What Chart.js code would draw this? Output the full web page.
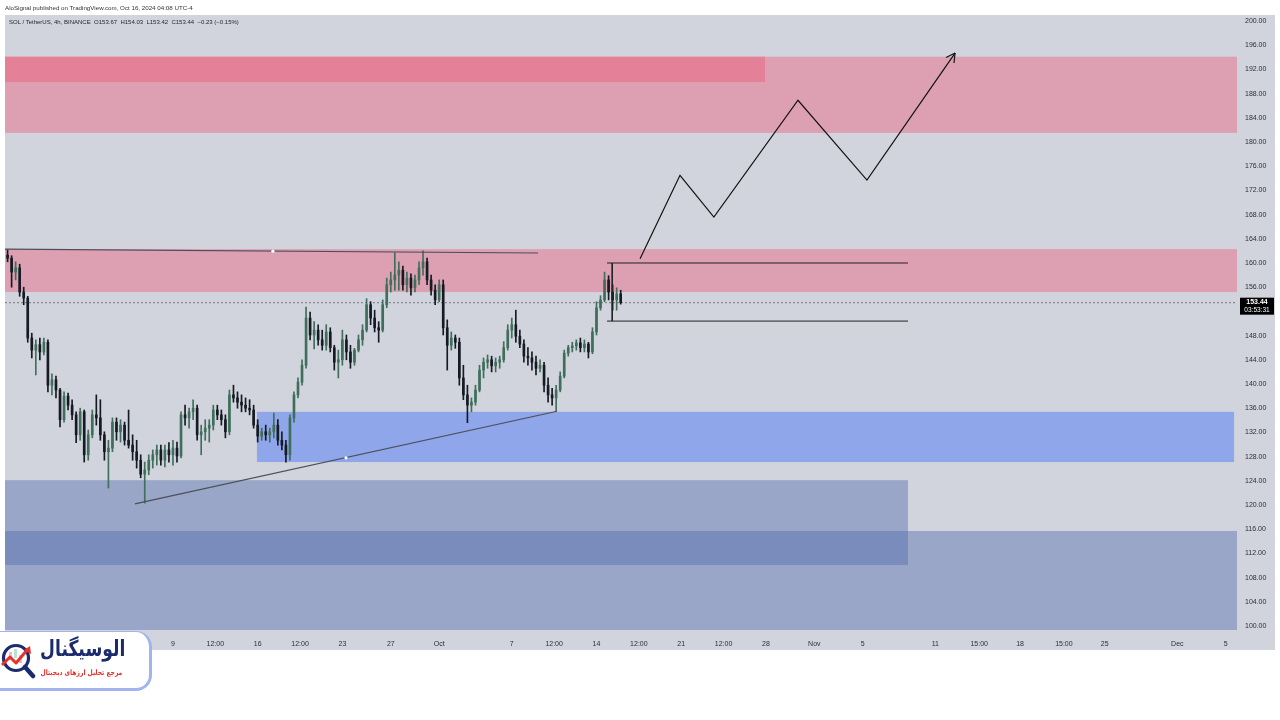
<!DOCTYPE html>
<html><head><meta charset="utf-8">
<script src="https://cdn.jsdelivr.net/npm/chart.js@4.4.1/dist/chart.umd.min.js"></script>
<style>
html,body{margin:0;padding:0;background:#fff;width:1280px;height:720px;overflow:hidden;font-family:"Liberation Sans",Arial,sans-serif}
#wrap{position:relative;width:1280px;height:720px}
canvas{position:absolute;left:0;top:0}
#pub{position:absolute;left:5px;top:4px;font-size:6.2px;color:#333;white-space:nowrap;line-height:8px}
#sym{position:absolute;left:9px;top:18px;font-size:6px;color:#1e222d;white-space:nowrap;line-height:8px}
#logo{position:absolute;left:-4px;top:631px;width:153px;height:56px;background:#fff;border:3px solid #a2b3ee;border-left:none;border-top-width:1px;border-radius:0 16px 16px 0}
#logo svg{position:absolute;left:4px;top:10px}
#lt1{position:absolute;right:24px;top:4px;font-family:"DejaVu Sans",sans-serif;font-weight:bold;font-size:22px;color:#1c2b6e;direction:rtl;white-space:nowrap;transform:scaleX(0.78);transform-origin:right center}
#lt2{position:absolute;right:27px;top:36px;font-family:"DejaVu Sans",sans-serif;font-weight:bold;font-size:7.5px;color:#e5322d;direction:rtl;white-space:nowrap;transform:scaleX(0.8);transform-origin:right center}
</style></head><body>
<div id="wrap">
<canvas id="c" width="1280" height="720"></canvas>
<div id="pub">AloSignal published on TradingView.com, Oct 16, 2024 04:08 UTC-4</div>
<div id="sym">SOL / TetherUS, 4h, BINANCE&nbsp; O153.67&nbsp; H154.03&nbsp; L153.42&nbsp; C153.44&nbsp; −0.23 (−0.15%)</div>
<div id="logo">
<svg width="36" height="38" viewBox="0 0 36 38">
<circle cx="16" cy="16" r="12.5" fill="#fff" stroke="#1c2b6e" stroke-width="3.2"/>
<line x1="25" y1="25" x2="33" y2="34" stroke="#1c2b6e" stroke-width="4.5" stroke-linecap="round"/>
<rect x="9" y="10" width="3" height="8" fill="#f3b9c3"/><rect x="14" y="7" width="3" height="9" fill="#b9e3cf"/><rect x="19" y="13" width="3" height="8" fill="#f3b9c3"/>
<polyline points="2,23 10,15 16,21 28,7" fill="none" stroke="#e5322d" stroke-width="3" stroke-linejoin="round"/>
<polygon points="30,4 31,12 24,8" fill="#e5322d"/>
</svg>
<div id="lt1">الوسیگنال</div>
<div id="lt2">مرجع تحلیل ارزهای دیجیتال</div>
</div>
</div>
<script>
// ---- data (x = days since 2024-09-01 00:00, y = price in USDT) ----
const candleStartDay = -5.667;      // Aug 26 2024 08:00
const candleStepDay = 1/3;          // 8h buckets
const opens = [161.3,160.8,158.5,159.2,155.2,154.2,147.6,145.6,146.5,145.3,
146.9,139.8,140.7,139.0,134.1,138.0,136.5,134.9,131.6,135.4,
128.3,131.6,134.9,134.4,131.6,128.8,129.4,133.7,132.1,133.2,
130.7,129.9,128.8,127.4,125.1,125.8,127.4,128.3,129.1,127.4,
129.1,128.3,129.4,128.1,134.9,134.4,135.4,136.0,131.6,132.1,
132.7,133.2,135.7,134.9,134.1,132.1,138.2,137.7,137.0,136.5,
136.0,135.7,133.2,131.4,132.1,131.6,132.1,133.2,130.7,129.9,
128.3,134.4,138.2,140.3,143.1,150.9,148.1,148.9,147.3,146.4,
148.6,146.0,143.6,144.0,147.3,145.3,143.6,145.6,147.3,148.9,
153.1,150.9,149.3,148.9,153.1,156.4,157.2,158.0,158.8,156.4,
157.5,155.9,157.2,159.2,160.2,157.2,155.5,153.9,156.4,149.3,
146.4,147.6,146.9,141.0,138.2,136.5,137.0,139.0,142.3,143.6,
144.0,143.0,143.6,144.0,146.0,148.9,149.8,147.9,146.6,144.6,
144.3,143.6,142.6,143.1,139.8,138.2,137.7,139.0,141.3,145.1,
146.0,146.3,146.8,146.0,146.6,145.3,148.6,152.6,153.9,157.2,
155.2,153.9,154.9];
const highs = [162.2,161.2,160.2,159.8,156.0,154.5,148.4,147.3,147.6,147.6,
147.3,141.7,141.3,139.3,138.7,138.5,137.4,135.4,136.0,135.7,
132.4,135.7,138.2,137.4,132.1,130.7,134.4,134.4,134.1,133.7,
135.7,131.6,130.7,128.3,127.1,128.3,129.1,129.9,129.9,129.9,
130.3,130.7,130.4,135.4,136.5,136.0,137.4,136.5,133.2,134.1,
134.1,136.5,136.5,135.7,134.9,139.0,139.8,138.7,138.2,137.7,
137.4,136.5,134.1,132.7,133.2,132.7,135.2,134.1,132.1,130.7,
134.9,138.7,141.0,144.0,152.7,151.9,150.3,149.8,148.9,149.8,
149.3,146.4,145.6,148.9,148.1,146.4,145.9,148.1,149.8,154.1,
153.6,152.2,150.3,153.9,157.5,158.5,161.7,160.2,159.5,158.5,
158.2,158.0,160.2,162.0,160.8,158.0,156.4,157.2,157.2,150.6,
148.6,148.1,147.6,143.1,139.8,137.7,139.8,143.1,144.3,144.8,
144.6,144.3,144.6,147.0,149.8,150.9,152.2,148.9,147.3,146.0,
145.3,144.6,144.0,143.6,141.0,139.3,139.8,142.0,145.6,146.4,
146.9,147.3,147.6,147.3,146.9,149.3,153.6,154.6,158.5,157.9,
156.4,155.9,155.5];
const lows = [160.2,156.0,157.2,154.5,153.1,146.9,144.3,141.5,144.0,144.8,
138.7,138.2,137.7,132.9,133.7,135.7,134.1,130.3,130.7,127.1,
127.4,131.1,133.2,130.7,127.4,122.8,128.8,130.7,130.4,129.9,
129.4,127.4,126.1,124.5,120.3,125.0,126.1,126.6,126.6,126.3,
127.1,126.6,127.1,127.8,133.2,132.7,134.1,130.7,128.3,130.7,
130.4,132.4,134.1,133.2,131.1,131.6,137.0,136.0,135.4,135.4,
134.9,132.7,130.4,130.7,130.7,130.4,131.1,129.9,129.1,127.1,
127.4,133.7,137.7,139.8,142.6,147.3,145.8,146.4,145.6,145.6,
145.3,142.3,141.0,143.1,144.0,142.6,143.1,145.3,146.4,148.6,
149.8,148.6,146.9,148.6,152.6,155.2,155.5,155.5,155.5,155.2,
154.7,155.2,156.4,158.0,156.4,154.7,153.1,153.6,148.1,142.3,
145.6,145.9,139.8,137.4,133.6,135.4,136.5,138.7,141.0,142.6,
142.0,142.0,142.6,143.6,145.6,147.6,146.9,146.0,143.6,143.1,
142.3,141.5,142.0,138.7,137.0,136.5,135.5,138.7,141.0,144.6,
145.3,145.6,145.3,145.3,144.3,145.0,148.1,152.2,153.6,153.9,
152.2,152.2,153.2];
const closes = [160.8,158.5,159.2,155.2,154.2,147.6,145.6,146.5,145.3,146.9,
139.8,140.7,139.0,134.1,138.0,136.5,134.9,131.6,135.4,128.3,
131.6,134.9,134.4,131.6,128.8,129.4,133.7,132.1,133.2,130.7,
129.9,128.8,127.4,125.1,125.8,127.4,128.3,129.1,127.4,129.1,
128.3,129.4,128.1,134.9,134.4,135.4,136.0,131.6,132.1,132.7,
133.2,135.7,134.9,134.1,132.1,138.2,137.7,137.0,136.5,136.0,
135.7,133.2,131.4,132.1,131.6,132.1,133.2,130.7,129.9,128.3,
134.4,138.2,140.3,143.1,150.9,148.1,148.9,147.3,146.4,148.6,
146.0,143.6,144.0,147.3,145.3,143.6,145.6,147.3,148.9,153.1,
150.9,149.3,148.9,153.1,156.4,157.2,158.0,158.8,156.4,157.5,
155.9,157.2,159.2,160.2,157.2,155.5,153.9,156.4,149.3,146.4,
147.6,146.9,141.0,138.2,136.5,137.0,139.0,142.3,143.6,144.0,
143.0,143.6,144.0,146.0,148.9,149.8,147.9,146.6,144.6,144.3,
143.6,142.6,143.1,139.8,138.2,137.7,139.0,141.3,145.1,146.0,
146.3,146.8,146.0,146.6,145.3,148.6,152.6,153.9,157.2,155.2,
153.9,154.9,153.44];
const lastPrice = 153.44;
const lastCountdown = "03:53:31";

// axis ranges and ticks
const xMin = -5.88, xMax = 95.93;
const yMin = 99.34, yMax = 200.99;
const yTickValues = [100,104,108,112,116,120,124,128,132,136,140,144,148,152,156,160,164,168,172,176,180,184,188,192,196,200];
const xTickValues = [8,11.5,15,18.5,22,26,30,36,39.5,43,46.5,50,53.5,57,61,65,71,74.625,78,81.625,85,91,95];
const xTickLabels = ["9","12:00","16","12:00","23","27","Oct","7","12:00","14","12:00","21","12:00","28","Nov","5","11","15:00","18","15:00","25","Dec","5"];

// zones (supply / demand boxes)
const zoneFrom = [-5.88, -5.88, -5.88, 14.94, -5.88, -5.88];
const zoneTo   = [96, 56.93, 96, 95.69, 68.74, 96];
const zoneLow  = [181.5, 189.9, 155.2, 127.1, 110.1, 95];
const zoneHigh = [194.1, 194.1, 162.3, 135.4, 124.1, 115.7];

// drawings
const resistX = [-5.88, 38.17], resistY = [162.3, 161.65];
const trendX = [4.86, 39.74], trendY = [120.2, 135.5];
const rangeX = [43.87, 68.74], rangeTop = 160.0, rangeBottom = 150.4, rangeMarkX = 44.3;
const projX = [46.6, 49.9, 52.7, 59.65, 65.35, 72.63];
const projY = [160.7, 174.5, 167.6, 186.9, 173.7, 194.7];
const anchorX = [16.26, 22.3], anchorY = [161.95, 127.8];

// ---- styles ----
const upColor = '#3f6f5b', downColor = '#161a24';
const pink = 'rgba(239,82,115,0.4)', slate = 'rgba(83,106,172,0.44)';
const zoneColors = [pink, pink, pink, '#8fa6ea', slate, slate];

const times = closes.map((c,i)=>candleStartDay + i*candleStepDay);
const candleCols = closes.map((c,i)=> c>=opens[i] ? upColor : downColor);
const pts = (xs, ys) => xs.map((x,i)=>({x, y: ys[i]}));

const bgPlugin = {
  id:'bg',
  beforeDraw(chart){
    const ctx = chart.ctx; ctx.save();
    ctx.fillStyle = '#d1d4dc'; ctx.fillRect(5,15,1270,635);
    ctx.restore();
  },
  beforeDatasetsDraw(chart){
    const {ctx, chartArea:a, scales:{x,y}} = chart;
    ctx.save(); ctx.beginPath(); ctx.rect(a.left,a.top,a.right-a.left,a.bottom-a.top); ctx.clip();
    zoneFrom.forEach((f,i)=>{
      const x0 = x.getPixelForValue(f), x1 = x.getPixelForValue(zoneTo[i]);
      const y0 = y.getPixelForValue(zoneHigh[i]), y1 = y.getPixelForValue(zoneLow[i]);
      ctx.fillStyle = zoneColors[i];
      ctx.fillRect(x0, y0, x1-x0, y1-y0);
    });
    ctx.restore();
  },
  afterDatasetsDraw(chart){
    const {ctx, scales:{x,y}} = chart;
    const n = projX.length;
    const px = x.getPixelForValue(projX[n-1]), py = y.getPixelForValue(projY[n-1]);
    const qx = x.getPixelForValue(projX[n-2]), qy = y.getPixelForValue(projY[n-2]);
    const ang = Math.atan2(qy-py, qx-px);
    ctx.save(); ctx.strokeStyle = '#111'; ctx.lineWidth = 1.2;
    [0.5,-0.5].forEach(d=>{
      ctx.beginPath(); ctx.moveTo(px,py);
      ctx.lineTo(px + 10*Math.cos(ang+d), py + 10*Math.sin(ang+d)); ctx.stroke();
    });
    ctx.fillStyle = '#ffffff';
    anchorX.forEach((ax,i)=>{
      ctx.beginPath(); ctx.arc(x.getPixelForValue(ax), y.getPixelForValue(anchorY[i]), 1.6, 0, 7); ctx.fill();
    });
    ctx.restore();
  },
  afterDraw(chart){
    const {ctx, scales:{y}} = chart;
    const py = y.getPixelForValue(lastPrice);
    ctx.save();
    ctx.fillStyle = '#000'; ctx.fillRect(1240, py-5, 34, 17);
    ctx.fillStyle = '#fff'; ctx.textAlign = 'center'; ctx.textBaseline = 'middle';
    ctx.font = 'bold 7px "Liberation Sans", Arial';
    ctx.fillText(lastPrice.toFixed(2), 1257, py-0.5);
    ctx.font = '6.5px "Liberation Sans", Arial';
    ctx.fillText(lastCountdown, 1257, py+7.5);
    ctx.restore();
  }
};

Chart.defaults.font.family = '"Liberation Sans", Arial, sans-serif';
new Chart(document.getElementById('c'), {
  type: 'bar',
  data: {
    datasets: [
      { type:'line', data: pts([xMin, xMax],[lastPrice,lastPrice]), borderColor:'rgba(95,95,105,0.8)', borderWidth:1, borderDash:[2,2], pointRadius:0, order:5 },
      { label:'wick', data: times.map((t,i)=>({x:t, y:[lows[i], highs[i]]})), backgroundColor:candleCols, barThickness:1, grouped:false, order:4 },
      { label:'body', data: times.map((t,i)=>({x:t, y:[opens[i], closes[i]]})), backgroundColor:candleCols, barThickness:2, grouped:false, minBarLength:1, order:3 },
      { type:'line', data: pts(resistX, resistY), borderColor:'#4d4f57', borderWidth:1.2, pointRadius:0, order:2 },
      { type:'line', data: pts(trendX, trendY), borderColor:'#4d4f57', borderWidth:1.2, pointRadius:0, order:2 },
      { type:'line', data: pts(rangeX, [rangeTop, rangeTop]), borderColor:'#222', borderWidth:1, pointRadius:0, order:2 },
      { type:'line', data: pts(rangeX, [rangeBottom, rangeBottom]), borderColor:'#222', borderWidth:1, pointRadius:0, order:2 },
      { type:'line', data: pts([rangeMarkX, rangeMarkX], [rangeTop, rangeBottom]), borderColor:'#222', borderWidth:1, pointRadius:0, order:2 },
      { type:'line', data: pts(projX, projY), borderColor:'#111', borderWidth:1.2, pointRadius:0, order:1 }
    ]
  },
  options: {
    responsive:false, animation:false, devicePixelRatio:1,
    layout:{ padding:{ left:5, top:15, right:5, bottom:70 } },
    plugins:{ legend:{display:false}, tooltip:{enabled:false} },
    elements:{ line:{ tension:0 } },
    scales:{
      x:{ type:'linear', min:xMin, max:xMax, offset:false,
        afterBuildTicks:s=>{ s.ticks = xTickValues.map(v=>({value:v})); },
        ticks:{ autoSkip:false, maxRotation:0, padding:10, color:'#2a2e39', font:{size:7}, callback:(v,i)=>xTickLabels[i] },
        grid:{ display:false, drawTicks:false }, border:{ display:false },
        afterFit:s=>{ s.height = 20; } },
      y:{ type:'linear', position:'right', min:yMin, max:yMax,
        afterBuildTicks:s=>{ s.ticks = yTickValues.map(v=>({value:v})); },
        ticks:{ color:'#2a2e39', font:{size:7}, padding:8, callback:v=>Number(v).toFixed(2) },
        grid:{ display:false, drawTicks:false }, border:{ display:false },
        afterFit:s=>{ s.width = 38; } }
    }
  },
  plugins:[bgPlugin]
});
</script>
</body></html>
